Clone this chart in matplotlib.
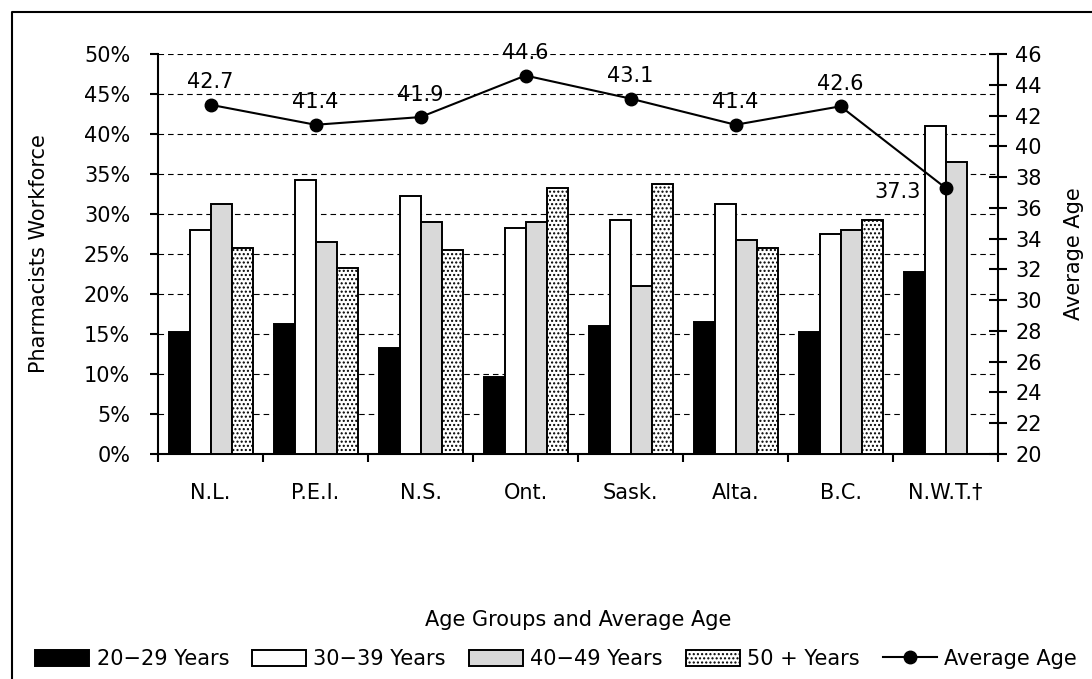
import numpy as np
import matplotlib.pyplot as plt
from matplotlib.lines import Line2D

provinces = ["N.L.", "P.E.I.", "N.S.", "Ont.", "Sask.", "Alta.", "B.C.", "N.W.T.\u2020"]
age_20_29 = [15.3, 16.3, 13.3, 9.6, 16.0, 16.5, 15.3, 22.8]
age_30_39 = [28.0, 34.2, 32.3, 28.2, 29.3, 31.3, 27.5, 41.0]
age_40_49 = [31.3, 26.5, 29.0, 29.0, 21.0, 26.8, 28.0, 36.5]
age_50_up = [25.7, 23.3, 25.5, 33.2, 33.7, 25.7, 29.2, np.nan]
avg_age = [42.7, 41.4, 41.9, 44.6, 43.1, 41.4, 42.6, 37.3]

plt.rcParams["font.family"] = "DejaVu Sans"
plt.rcParams["font.size"] = 15
plt.rcParams["hatch.linewidth"] = 1.0

fig = plt.figure(figsize=(10.92, 6.79), dpi=100)
ax = fig.add_axes([158 / 1092, 1 - 454 / 679, 840 / 1092, 400 / 679])
ax2 = ax.twinx()

x = np.arange(len(provinces))
w = 0.2
series = [
    (age_20_29, "black", None, "20\u221229 Years"),
    (age_30_39, "white", None, "30\u221239 Years"),
    (age_40_49, "#d9d9d9", None, "40\u221249 Years"),
    (age_50_up, "white", "....", "50 + Years"),
]
for i, (vals, color, hatch, label) in enumerate(series):
    ax.bar(x + (i - 1.5) * w, vals, w, color=color, edgecolor="black",
           linewidth=1.4, hatch=hatch, label=label, zorder=3)

ax.set_ylim(0, 50)
ax.set_xlim(-0.5, len(provinces) - 0.5)
ax.set_yticks(np.arange(0, 51, 5))
ax.set_yticklabels([f"{v}%" for v in range(0, 51, 5)])
ax.yaxis.grid(True, linestyle=(0, (5, 3.6)), color="black", linewidth=0.8)
ax.set_axisbelow(True)
ax.set_xticks(x)
ax.set_xticklabels(provinces)
ax.tick_params(axis="x", length=0, pad=21)
ax.set_xticks(np.arange(-0.5, len(provinces), 1), minor=True)
ax.tick_params(axis="x", which="minor", length=6, width=1.5, direction="out")
ax.tick_params(axis="y", length=6, width=1.5, direction="out", pad=14)
ax.set_ylabel("Pharmacists Workforce", labelpad=25)
ax.set_xlabel("Age Groups and Average Age", labelpad=77)
for s in ["top", "right"]:
    ax.spines[s].set_visible(False)
for s in ["left", "bottom"]:
    ax.spines[s].set_linewidth(1.5)

ax2.plot(x, avg_age, color="black", marker="o", markersize=9, linewidth=1.5,
         label="Average Age", zorder=5)
ax2.set_ylim(20, 46)
ax2.set_yticks(np.arange(20, 47, 2))
ax2.tick_params(axis="y", length=13, width=1.5, direction="inout", pad=6)
ax2.set_ylabel("Average Age", labelpad=16)
for s in ["top", "left", "bottom"]:
    ax2.spines[s].set_visible(False)
ax2.spines["right"].set_linewidth(1.5)
for xi, v in zip(x, avg_age):
    if xi == len(provinces) - 1:
        ax2.annotate(f"{v}", (xi, v), xytext=(-18, -3), textcoords="offset points",
                     ha="right", va="center")
    else:
        ax2.annotate(f"{v}", (xi, v), xytext=(0, 9), textcoords="offset points",
                     ha="center", va="bottom")

h1, l1 = ax.get_legend_handles_labels()
h2, l2 = ax2.get_legend_handles_labels()
fig.legend(h1 + h2, l1 + l2, loc="center", bbox_to_anchor=(0.5 + 10 / 1092, 1 - 659 / 679),
           ncol=5, frameon=False, handlelength=2.6, handleheight=0.8,
           handletextpad=0.35, columnspacing=1.1, borderpad=0)

# partial page frame (left and top only, as in the original)
fig.add_artist(Line2D([12 / 1092, 12 / 1092, 1.0], [0.0, 1 - 12 / 679, 1 - 12 / 679],
                      transform=fig.transFigure, color="black", linewidth=1.5))

fig.savefig("out.png", dpi=100)
